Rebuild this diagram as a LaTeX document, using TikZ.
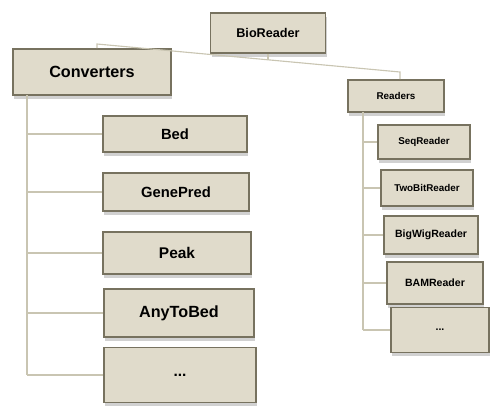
\documentclass[tikz,border=0pt]{standalone}
\usepackage{fontspec}
\setmainfont{Liberation Sans}
\usetikzlibrary{shadows}
\definecolor{boxfill}{HTML}{E0DBCB}
\definecolor{boxedge}{HTML}{77725F}
\definecolor{linkcol}{HTML}{C9C5B2}

\begin{document}
\begin{tikzpicture}
    [x=0.025cm, y=-0.025cm,
     block/.style={rectangle, draw=boxedge, line width=1.3pt, fill=boxfill,
        inner sep=0pt, font=\bfseries,
        drop shadow={shadow xshift=1pt, shadow yshift=-2.5pt, fill=black!18, opacity=1}},
     link/.style={draw=linkcol, line width=0.8pt}]
    \useasboundingbox (0,0) rectangle (500,416);
    % top level
    \node[block, minimum width=2.875cm, minimum height=1cm, font=\bfseries\fontsize{9}{10}\selectfont] (bio) at (268,33) {BioReader};
    \node[block, minimum width=3.95cm, minimum height=1.15cm, font=\bfseries\fontsize{11.5}{13}\selectfont] (conv) at (92,72) {Converters};
    \node[block, minimum width=2.4cm, minimum height=0.8cm, font=\bfseries\fontsize{7}{8}\selectfont] (read) at (396,96) {Readers};
    % converters
    \node[block, minimum width=3.6cm, minimum height=0.9cm, font=\bfseries\fontsize{10.5}{12}\selectfont] (bed) at (175,134) {Bed};
    \node[block, minimum width=3.65cm, minimum height=0.95cm, font=\bfseries\fontsize{10.5}{12}\selectfont] (gene) at (176,192) {GenePred};
    \node[block, minimum width=3.7cm, minimum height=1.05cm, font=\bfseries\fontsize{11}{12}\selectfont] (peak) at (177,253) {Peak};
    \node[block, minimum width=3.75cm, minimum height=1.2cm, font=\bfseries\fontsize{11.5}{13}\selectfont] (any) at (179,313) {AnyToBed};
    \node[block, minimum width=3.8cm, minimum height=1.375cm, font=\bfseries\fontsize{11}{12}\selectfont] (convmore) at (180,375) {...};
    % readers
    \node[block, minimum width=2.3cm, minimum height=0.85cm, font=\bfseries\fontsize{7}{8}\selectfont] (seq) at (424,142) {SeqReader};
    \node[block, minimum width=2.3cm, minimum height=0.9cm, font=\bfseries\fontsize{7}{8}\selectfont] (twobit) at (427,188) {TwoBitReader};
    \node[block, minimum width=2.35cm, minimum height=0.95cm, font=\bfseries\fontsize{7.5}{9}\selectfont] (bigwig) at (431,235) {BigWigReader};
    \node[block, minimum width=2.4cm, minimum height=1.05cm, font=\bfseries\fontsize{7.5}{9}\selectfont] (bam) at (435,283) {BAMReader};
    \node[block, minimum width=2.45cm, minimum height=1.125cm, font=\bfseries\fontsize{7.5}{9}\selectfont] (readmore) at (440,330) {...};

    % connectors
    \coordinate (cjoin) at (97,44);
    \coordinate (rjoin) at (400,72);
    \coordinate (bjoin) at (268,60);
    \coordinate (ctop) at (27,95);
    \coordinate (cbot) at (27,375);
    \coordinate (rtop) at (363,112);
    \coordinate (rbot) at (363,330);
    \draw[link] (conv.north -| cjoin) -- (cjoin) -- (rjoin) -- (read.north -| rjoin);
    \draw[link] (bio.south) -- (bjoin);
    \draw[link] (ctop) -- (cbot);
    \foreach \n in {bed,gene,peak,any,convmore}
        \draw[link] (ctop |- \n.west) -- (\n.west);
    \draw[link] (rtop) -- (rbot);
    \foreach \n in {seq,twobit,bigwig,bam,readmore}
        \draw[link] (rtop |- \n.west) -- (\n.west);
\end{tikzpicture}
\end{document}
